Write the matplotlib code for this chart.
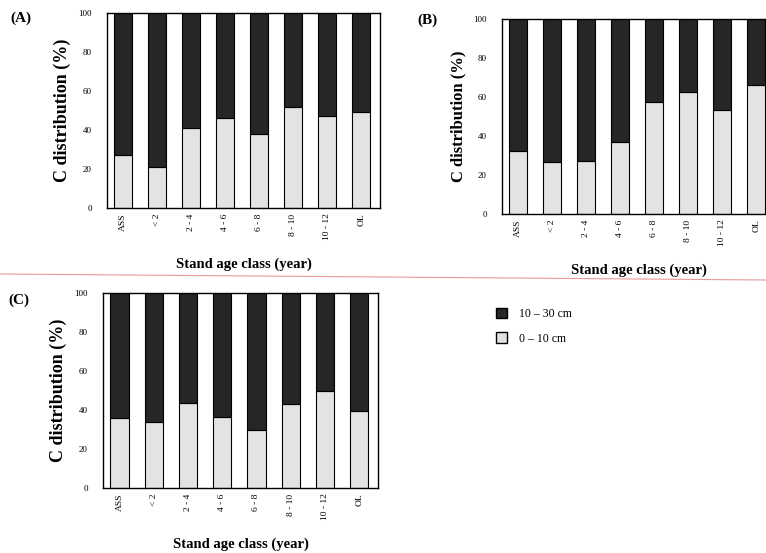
import numpy as np
import matplotlib
matplotlib.use("Agg")
import matplotlib.pyplot as plt
import matplotlib.patches as mpatches
from matplotlib.lines import Line2D

plt.rcParams["font.family"] = ["Liberation Serif", "DejaVu Serif"]

CLASSES = ["ASS", "< 2", "2 - 4", "4 - 6", "6 - 8", "8 - 10", "10 - 12", "OL"]

# 0-10 cm share (%) and 10-30 cm share (%)
A_TOP = [27, 21, 41, 46, 38, 52, 47, 49]
A_DEEP = [73, 79, 59, 54, 62, 48, 53, 51]
B_TOP = [32.5, 26.5, 27, 37, 57.5, 62.5, 53.5, 66]
B_DEEP = [67.5, 73.5, 73, 63, 42.5, 37.5, 46.5, 34]
C_TOP = [36, 34, 43.5, 36.5, 29.5, 43, 50, 39.5]
C_DEEP = [64, 66, 56.5, 63.5, 70.5, 57, 50, 60.5]

DARK = "#262626"
LIGHT = "#e3e3e3"

W, H = 766, 553
fig = plt.figure(figsize=(W / 100, H / 100), dpi=100)


def px_axes(left, right, top, bottom):
    return fig.add_axes([left / W, 1 - bottom / H, (right - left) / W, (bottom - top) / H])


def draw(ax, top, deep, ysize):
    x = np.arange(len(CLASSES))
    ax.bar(x, top, width=0.53, color=LIGHT, edgecolor="black", linewidth=0.8)
    ax.bar(x, deep, bottom=top, width=0.53, color=DARK, edgecolor="black", linewidth=0.8)
    ax.set_xlim(-0.48, 7.55)
    ax.set_ylim(0, 100)
    ax.set_yticks([0, 20, 40, 60, 80, 100])
    ax.set_xticks(x)
    ax.set_xticklabels(CLASSES, rotation=90)
    ax.tick_params(axis="y", length=0, pad=11, labelsize=6.5)
    ax.tick_params(axis="x", length=0, pad=4, labelsize=6.8)
    for s in ax.spines.values():
        s.set_linewidth(1.0)
    ax.set_ylabel("C distribution (%)", fontsize=ysize, fontweight="bold", labelpad=5)
    ax.set_xlabel("Stand age class (year)", fontsize=10.5, fontweight="bold", labelpad=12)


axA = px_axes(107, 380, 13, 208)
draw(axA, A_TOP, A_DEEP, 13)
axB = px_axes(502, 775, 19, 214)
draw(axB, B_TOP, B_DEEP, 12)
axC = px_axes(103, 378, 293, 488)
draw(axC, C_TOP, C_DEEP, 13)

fig.text(10 / W, 1 - 18 / H, "(A)", fontsize=11, fontweight="bold", va="center")
fig.text(417 / W, 1 - 20 / H, "(B)", fontsize=11, fontweight="bold", va="center")
fig.text(8 / W, 1 - 300 / H, "(C)", fontsize=11, fontweight="bold", va="center")

# faint red rule from the scanned page
fig.add_artist(Line2D([0, 1], [1 - 274 / H, 1 - 280 / H], color="#e89a9a",
                      linewidth=0.8, transform=fig.transFigure))

handles = [mpatches.Patch(facecolor=DARK, edgecolor="black", label="10 – 30 cm"),
           mpatches.Patch(facecolor=LIGHT, edgecolor="black", label="0 – 10 cm")]
fig.legend(handles=handles, loc="upper left", bbox_to_anchor=(485 / W, 1 - 297 / H),
           frameon=False, fontsize=8.5, handlelength=1.0, handleheight=1.0,
           handletextpad=1.0, labelspacing=1.05)

fig.savefig("out.png", dpi=100)
